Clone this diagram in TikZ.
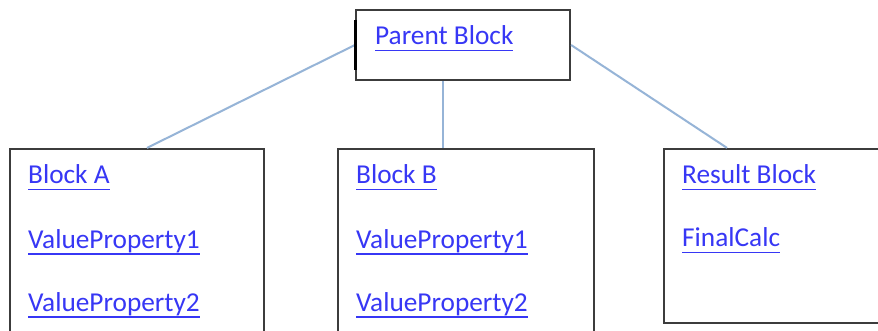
\documentclass[tikz,border=0pt]{standalone}
\usepackage{fontspec}
\setmainfont{Carlito}
\usetikzlibrary{calc}
\definecolor{linkblue}{RGB}{55,55,245}
\definecolor{conn}{RGB}{150,180,215}
\definecolor{boxgray}{RGB}{60,60,60}
\newcommand\myul[1]{\setbox0\hbox{#1}\rlap{\rule[-6.5pt]{\wd0}{1.7pt}}\box0}
\begin{document}
\begin{tikzpicture}[x=1pt,y=-1pt,
  blk/.style={draw=boxgray,line width=2.2pt,rectangle,inner sep=0pt,fill=white},
  lbl/.style={anchor=base west,inner sep=0pt,text=linkblue,font=\fontsize{27.3}{30}\selectfont},
  conline/.style={draw=conn,line width=2pt}]
\clip (0,0) rectangle (878,331);
\fill[white] (0,0) rectangle (878,331);
\node[blk,minimum width=214pt,minimum height=70pt] (parent) at (463,45) {};
\node[blk,minimum width=254pt,minimum height=196pt] (a) at (137,247) {};
\node[blk,minimum width=256pt,minimum height=196pt] (b) at (466,247) {};
\node[blk,minimum width=226pt,minimum height=174pt] (r) at (777,236) {};
\draw[conline] (parent.west) -- ($(a.north)+(10,0)$);
\draw[conline] ($(parent.south)+(-20,0)$) -- ($(b.north)+(-23,0)$);
\draw[conline] (parent.east) -- ($(r.north)+(-50,0)$);
\draw[line width=3pt,black] ($(parent.west)+(1,-25)$) -- ($(parent.west)+(1,25)$);
\node[lbl] (pt) at (375,45) {\myul{Parent Block}};
\node[lbl] (at) at (28,184) {\myul{Block A}};
\node[lbl] (av1) at (28,248) {\myul{ValueProperty1}};
\node[lbl] (av2) at (28,311) {\myul{ValueProperty2}};
\node[lbl] (bt) at (356,184) {\myul{Block B}};
\node[lbl] (bv1) at (356,248) {\myul{ValueProperty1}};
\node[lbl] (bv2) at (356,311) {\myul{ValueProperty2}};
\node[lbl] (rt) at (682,184) {\myul{Result Block}};
\node[lbl] (rv) at (682,247) {\myul{FinalCalc}};
\end{tikzpicture}
\end{document}
